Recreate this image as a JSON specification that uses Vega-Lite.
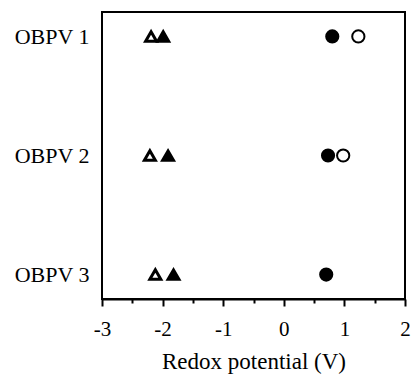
{
  "$schema": "https://vega.github.io/schema/vega-lite/v6.json",
  "width": 303,
  "height": 287,
  "autosize": {"type": "none"},
  "padding": {"left": 102, "top": 12, "right": 6, "bottom": 75},
  "background": "white",
  "config": {
    "font": "Liberation Serif",
    "view": {"stroke": "black", "strokeWidth": 2},
    "axis": {"labelFont": "Liberation Serif", "titleFont": "Liberation Serif", "labelColor": "black", "titleColor": "black", "grid": false}
  },
  "data": {
    "values": [
      {"compound": "OBPV 1", "potential": -2.19, "marker": "open triangle"},
      {"compound": "OBPV 1", "potential": -1.99, "marker": "filled triangle"},
      {"compound": "OBPV 1", "potential": 0.80, "marker": "filled circle"},
      {"compound": "OBPV 1", "potential": 1.23, "marker": "open circle"},
      {"compound": "OBPV 2", "potential": -2.21, "marker": "open triangle"},
      {"compound": "OBPV 2", "potential": -1.91, "marker": "filled triangle"},
      {"compound": "OBPV 2", "potential": 0.73, "marker": "filled circle"},
      {"compound": "OBPV 2", "potential": 0.98, "marker": "open circle"},
      {"compound": "OBPV 3", "potential": -2.12, "marker": "open triangle"},
      {"compound": "OBPV 3", "potential": -1.82, "marker": "filled triangle"},
      {"compound": "OBPV 3", "potential": 0.70, "marker": "filled circle"}
    ]
  },
  "mark": {"type": "point", "stroke": "black", "opacity": 1},
  "encoding": {
    "x": {
      "field": "potential",
      "type": "quantitative",
      "scale": {"domain": [-3, 2], "nice": false, "zero": false},
      "axis": {
        "title": "Redox potential (V)",
        "values": [-3, -2.5, -2, -1.5, -1, -0.5, 0, 0.5, 1, 1.5, 2],
        "labelExpr": "datum.value % 1 === 0 ? '' + datum.value : ''",
        "labelFontSize": 21,
        "titleFontSize": 23,
        "titleFontWeight": "normal",
        "labelPadding": 12,
        "titlePadding": 11,
        "domainColor": "black",
        "domainWidth": 2,
        "tickColor": "black",
        "tickWidth": 2,
        "tickSize": {"condition": {"test": "datum.value % 1 === 0", "value": 7}, "value": 4},
        "labelFlush": false,
        "labelOverlap": false
      }
    },
    "y": {
      "field": "compound",
      "type": "nominal",
      "scale": {"type": "point", "padding": 0.205},
      "axis": {
        "title": null,
        "domain": false,
        "ticks": false,
        "labelFontSize": 22,
        "labelPadding": 13
      }
    },
    "shape": {
      "field": "marker",
      "type": "nominal",
      "scale": {
        "domain": ["open triangle", "filled triangle", "filled circle", "open circle"],
        "range": ["triangle-up", "triangle-up", "circle", "circle"]
      },
      "legend": null
    },
    "fill": {
      "field": "marker",
      "type": "nominal",
      "scale": {
        "domain": ["open triangle", "filled triangle", "filled circle", "open circle"],
        "range": ["white", "black", "black", "white"]
      },
      "legend": null
    },
    "size": {
      "field": "marker",
      "type": "nominal",
      "scale": {
        "domain": ["open triangle", "filled triangle", "filled circle", "open circle"],
        "range": [120, 150, 160, 120]
      },
      "legend": null
    },
    "strokeWidth": {
      "field": "marker",
      "type": "nominal",
      "scale": {
        "domain": ["open triangle", "filled triangle", "filled circle", "open circle"],
        "range": [3, 2, 2, 2.5]
      },
      "legend": null
    }
  }
}
